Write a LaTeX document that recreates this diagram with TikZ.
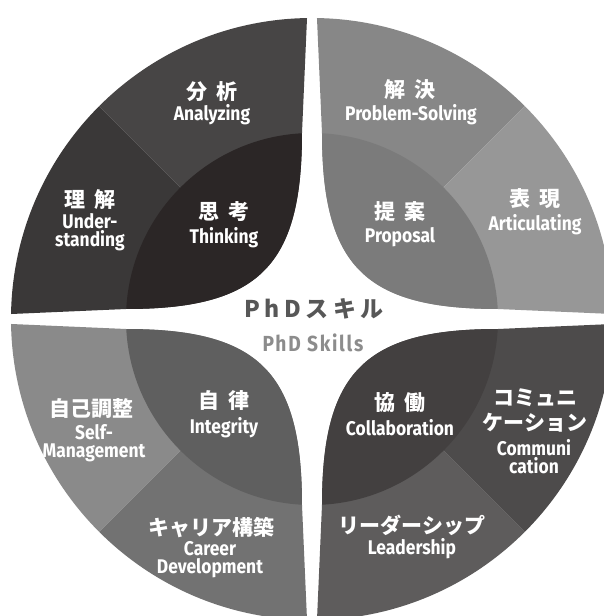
\documentclass[tikz,border=0pt]{standalone}
\usepackage{fontspec}
\setmainfont{Fira Sans}
\newfontfamily\jpfont{Noto Sans CJK JP}
\newfontfamily\enfont[FakeStretch=0.88]{Fira Sans}
\newfontfamily\titlefont[LetterSpace=20]{Noto Sans CJK JP}
\newfontfamily\subfont[FakeStretch=0.88, LetterSpace=8]{Fira Sans}

% quadrant shades
\definecolor{analyzeC}{HTML}{474545}
\definecolor{understandC}{HTML}{3A3838}
\definecolor{thinkC}{HTML}{2B2626}
\definecolor{solveC}{HTML}{878787}
\definecolor{articulateC}{HTML}{979797}
\definecolor{proposeC}{HTML}{7B7B7B}
\definecolor{careerC}{HTML}{727272}
\definecolor{selfC}{HTML}{8A8A8A}
\definecolor{integrityC}{HTML}{5F5F5F}
\definecolor{leadC}{HTML}{5E5C5C}
\definecolor{commC}{HTML}{4D4B4B}
\definecolor{collabC}{HTML}{434040}
\definecolor{titleC}{HTML}{575757}
\definecolor{subC}{HTML}{8C8C8C}

\newcommand{\jgap}{\hspace{.45em}}
% #1,#2 mirror; #3 band near vertical axis; #4 band near horizontal axis; #5 leaf
\newcommand{\skillquad}[5]{%
  \begin{scope}[xscale=#1, yscale=#2]
    \clip (89.05:301) arc[start angle=89.05, end angle=0.95, radius=301]
      -- (186,10) .. controls (53,10) and (10,53) .. (10,186) -- cycle;
    \fill[#3] (0,0) -- (90:330) -- (45:330) -- cycle;
    \fill[#4] (0,0) -- (45:330) -- (0:330) -- cycle;
    \fill[#5] (0,0) circle[radius=186];
  \end{scope}}

\begin{document}
\begin{tikzpicture}[x=1pt, y=1pt,
    jp/.style={font=\jpfont\bfseries\fontsize{21}{25}\selectfont, text=white, align=center, inner sep=0pt},
    en/.style={font=\enfont\bfseries\fontsize{19.8}{18}\selectfont, text=white, align=center, inner sep=0pt}]
  \fill[white] (-312,-297) rectangle (292,319);
  \useasboundingbox (-312,-297) rectangle (292,319);
  \clip (-312,-297) rectangle (292,319);

  \skillquad{-1}{1}{analyzeC}{understandC}{thinkC}
  \skillquad{1}{1}{solveC}{articulateC}{proposeC}
  \skillquad{-1}{-1}{careerC}{selfC}{integrityC}
  \skillquad{1}{-1}{leadC}{commC}{collabC}

  % thinking
  \node[jp] (analyze-jp) at (-100,227.5) {分\jgap 析};
  \node[en] (analyze-en) at (-100,204.5) {Analyzing};
  \node[jp] (understand-jp) at (-222,119) {理\jgap 解};
  \node[en] (understand-en) at (-222,86.5) {Under-\\standing};
  \node[jp] (think-jp) at (-88,107) {思\jgap 考};
  \node[en] (think-en) at (-88,81.5) {Thinking};

  % proposing
  \node[jp] (solve-jp) at (98,229) {解\jgap 決};
  \node[en] (solve-en) at (99,204.5) {Problem-Solving};
  \node[jp] (articulate-jp) at (223,120) {表\jgap 現};
  \node[en] (articulate-en) at (223,94.5) {Articulating};
  \node[jp] (propose-jp) at (88,107) {提\jgap 案};
  \node[en] (propose-en) at (88,81.5) {Proposal};

  % integrity
  \node[jp] (integrity-jp) at (-88,-82) {自\jgap 律};
  \node[en] (integrity-en) at (-88,-108.5) {Integrity};
  \node[jp] (self-jp) at (-220,-90) {自己調整};
  \node[en] (self-en) at (-218,-124) {Self-\\Management};
  \node[jp] (career-jp) at (-100,-209) {キャリア構築};
  \node[en] (career-en) at (-102,-240.5) {Career\\Development};

  % collaboration
  \node[jp] (collab-jp) at (88,-84) {協\jgap 働};
  \node[en] (collab-en) at (88,-108.5) {Collaboration};
  \node[jp] (comm-jp) at (223,-91.5) {コミュニ\\ケーション};
  \node[en] (comm-en) at (222,-138) {Communi\\cation};
  \node[jp] (lead-jp) at (100,-206) {リーダーシップ};
  \node[en] (lead-en) at (100,-229.5) {Leadership};

  % centre
  \node[font=\titlefont\bfseries\fontsize{23}{23}\selectfont, text=titleC] (title) at (2,10) {PhDスキル};
  \node[font=\subfont\bfseries\fontsize{21.8}{22}\selectfont, text=subC] (subtitle) at (1,-23.5) {PhD Skills};
\end{tikzpicture}
\end{document}
